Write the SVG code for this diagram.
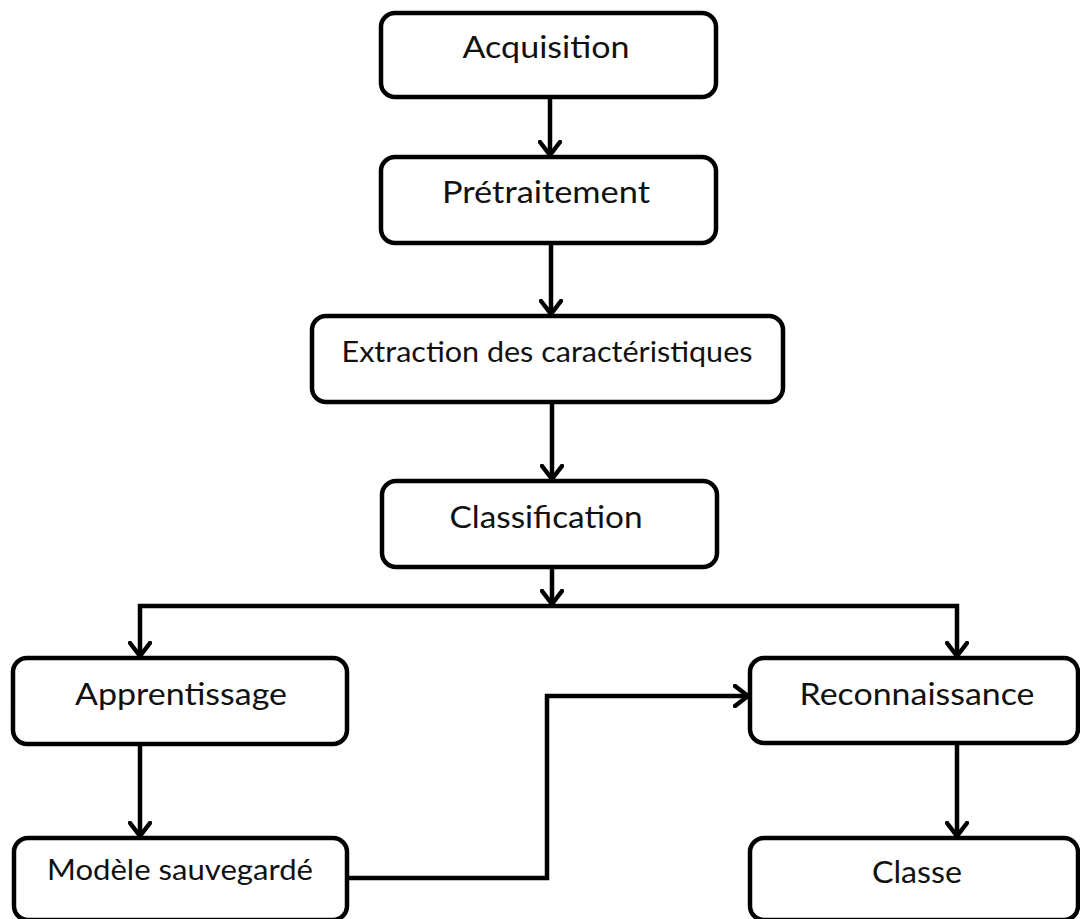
<svg xmlns="http://www.w3.org/2000/svg" width="1080" height="919" viewBox="0 0 1080 919">
  <style>
    .box { fill: #ffffff; stroke: #000000; stroke-width: 4.5; }
    .lbl { font-family: "Lato", "Open Sans", "Liberation Sans", sans-serif; font-size: 30px; fill: #111111; text-anchor: middle; }
    .small { font-size: 28px; }
    .wire { fill: none; stroke: #000000; stroke-width: 4.5; stroke-linejoin: miter; marker-end: url(#chevron); }
  </style>
  <defs>
    <!-- open chevron arrowhead -->
    <marker id="chevron" markerUnits="userSpaceOnUse" viewBox="-2 -2 18 24" markerWidth="18" markerHeight="24" refX="13" refY="10" orient="auto">
      <path d="M0,0 L13,10 L0,20" fill="none" stroke="#000000" stroke-width="4.5" stroke-linecap="round" stroke-linejoin="miter"/>
    </marker>
  </defs>

  <rect width="1080" height="919" fill="#ffffff"/>

  <g id="connectors">
    <path class="wire" d="M550,97 V155"/>
    <path class="wire" d="M551,243 V314"/>
    <path class="wire" d="M552,402 V479"/>
    <path class="wire" d="M552,567 V604"/>
    <path class="wire" d="M552,606 H140 V656"/>
    <path class="wire" d="M552,606 H957 V656"/>
    <path class="wire" d="M140,744 V836"/>
    <path class="wire" d="M347,878 H547 V696 H748"/>
    <path class="wire" d="M957,743 V836"/>
  </g>

  <g id="acquisition">
    <rect class="box" x="381" y="13" width="335" height="84" rx="14"/>
    <text class="lbl" x="546" y="58" textLength="167" lengthAdjust="spacingAndGlyphs">Acquisition</text>
  </g>

  <g id="pretraitement">
    <rect class="box" x="381" y="157" width="335" height="86" rx="14"/>
    <text class="lbl" x="546" y="203" textLength="208" lengthAdjust="spacingAndGlyphs">Prétraitement</text>
  </g>

  <g id="extraction">
    <rect class="box" x="312" y="316" width="471" height="86" rx="14"/>
    <text class="lbl small" x="547" y="362" textLength="411" lengthAdjust="spacingAndGlyphs">Extraction des caractéristiques</text>
  </g>

  <g id="classification">
    <rect class="box" x="382" y="481" width="335" height="86" rx="14"/>
    <text class="lbl" x="546" y="528" textLength="193" lengthAdjust="spacingAndGlyphs">Classification</text>
  </g>

  <g id="apprentissage">
    <rect class="box" x="13" y="658" width="334" height="86" rx="14"/>
    <text class="lbl" x="181" y="705" textLength="212" lengthAdjust="spacingAndGlyphs">Apprentissage</text>
  </g>

  <g id="reconnaissance">
    <rect class="box" x="750" y="658" width="328" height="85" rx="14"/>
    <text class="lbl" x="917" y="705" textLength="235" lengthAdjust="spacingAndGlyphs">Reconnaissance</text>
  </g>

  <g id="modele-sauvegarde">
    <rect class="box" x="14" y="838" width="333" height="82" rx="14"/>
    <text class="lbl small" x="180" y="880" textLength="266" lengthAdjust="spacingAndGlyphs">Modèle sauvegardé</text>
  </g>

  <g id="classe">
    <rect class="box" x="750" y="838" width="328" height="82" rx="14"/>
    <text class="lbl" x="917" y="883" textLength="90" lengthAdjust="spacingAndGlyphs">Classe</text>
  </g>
</svg>
